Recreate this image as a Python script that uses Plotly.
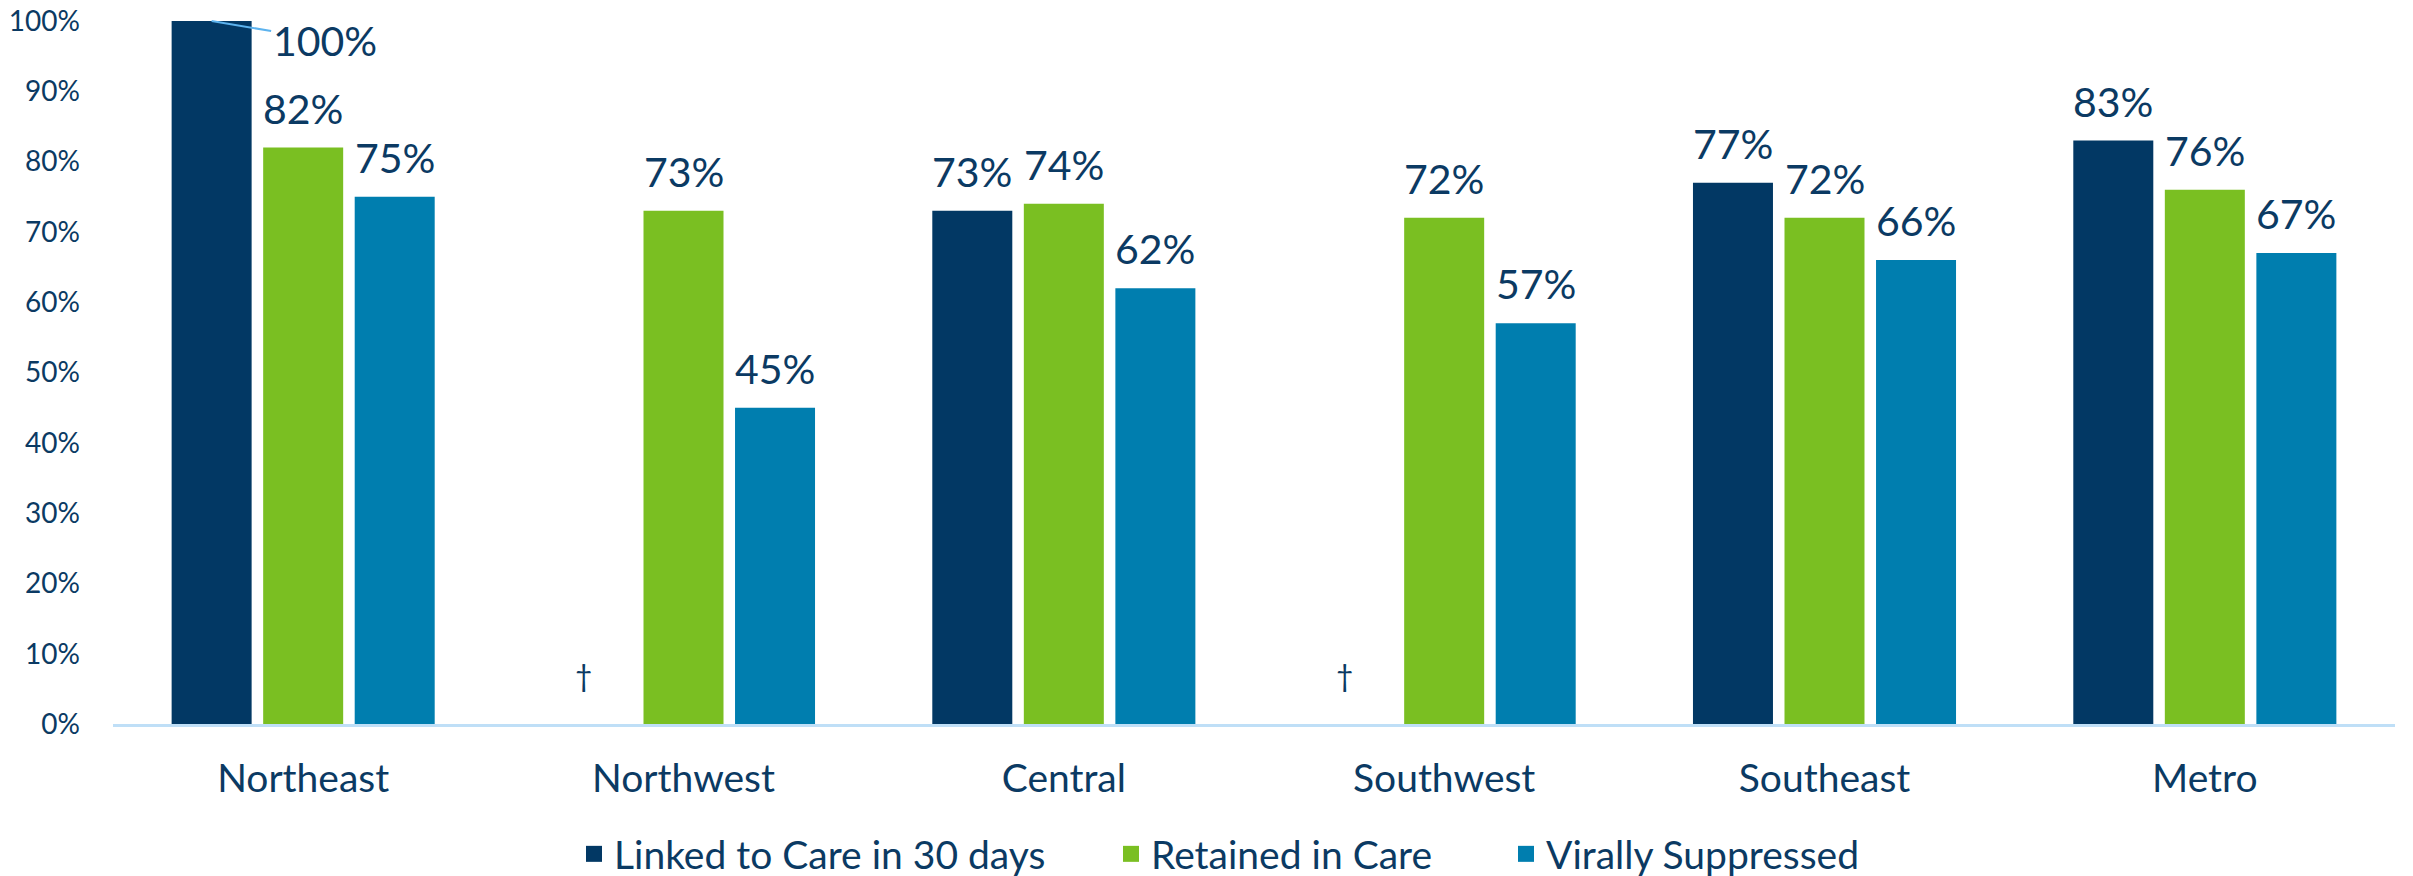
import plotly.graph_objects as go

categories = ["Northeast", "Northwest", "Central", "Southwest", "Southeast", "Metro"]
linked = [100, None, 73, None, 77, 83]
retained = [82, 73, 74, 72, 72, 76]
suppressed = [75, 45, 62, 57, 66, 67]
series_names = ["Linked to Care in 30 days", "Retained in Care", "Virally Suppressed"]
colors = ["#023864", "#7ABF22", "#007EAF"]
y_ticks = [0, 10, 20, 30, 40, 50, 60, 70, 80, 90, 100]
y_tick_labels = [f"{v}%" for v in y_ticks]

W, H = 2413, 876
ML, MR, MT, MB = 113, 18, 21, 152
BARGAP = 0.278
BARGROUPGAP = 0.126
FONT = "Lato"
TXT = "#0B3A63"
LEGEND_X = [574, 1111, 1506]

fig = go.Figure()
series = [linked, retained, suppressed]
for name, vals, col in zip(series_names, series, colors):
    fig.add_trace(go.Bar(
        x=categories, y=[None if v is None else v / 100 for v in vals],
        name=name, marker=dict(color=col, line=dict(width=0)), showlegend=False,
    ))
legend_ids = ["legend", "legend2", "legend3"]
for name, col, lid in zip(series_names, colors, legend_ids):
    fig.add_trace(go.Scatter(
        x=[None], y=[None], mode="markers", name=name, legend=lid,
        marker=dict(symbol="square", size=16, color=col), showlegend=True,
    ))

plot_w = W - ML - MR
slot = plot_w / len(categories) * (1 - BARGAP) / 3

annotations = []
for i, vals in enumerate(series):
    shift = (i - 1) * slot
    for cat, v in zip(categories, vals):
        if v is None:
            annotations.append(dict(
                x=cat, y=0, xref="x", yref="y", text="†", showarrow=False,
                xshift=shift - 8, yshift=49, yanchor="middle",
                font=dict(family=FONT, size=30, color=TXT)))
        elif v >= 100:
            annotations.append(dict(
                x=cat, y=v / 100, xref="x", yref="y", text=f"{v}%",
                showarrow=True, arrowhead=0, arrowwidth=2, arrowcolor="#5DB3EE",
                ax=113, ay=19, xshift=shift, standoff=0,
                font=dict(family=FONT, size=41, color=TXT)))
        else:
            annotations.append(dict(
                x=cat, y=v / 100, xref="x", yref="y", text=f"{v}%",
                showarrow=False, xshift=shift, yshift=13, yanchor="bottom",
                font=dict(family=FONT, size=41, color=TXT)))

legend_common = dict(orientation="h", xref="container", yref="container",
                     xanchor="left", y=1 - 854 / H, yanchor="middle",
                     font=dict(family=FONT, size=39, color=TXT),
                     bgcolor="rgba(0,0,0,0)")

fig.update_layout(
    width=W, height=H,
    margin=dict(l=ML, r=MR, t=MT, b=MB, autoexpand=False),
    paper_bgcolor="white", plot_bgcolor="white",
    barmode="group", bargap=BARGAP, bargroupgap=BARGROUPGAP,
    font=dict(family=FONT, color=TXT),
    annotations=annotations,
    showlegend=True,
    legend=dict(x=LEGEND_X[0] / W, **legend_common),
    legend2=dict(x=LEGEND_X[1] / W, **legend_common),
    legend3=dict(x=LEGEND_X[2] / W, **legend_common),
    xaxis=dict(showline=True, linecolor="#BFDFF7", linewidth=3,
               showgrid=False, ticks="", tickfont=dict(family=FONT, size=39, color=TXT),
               ticklabelstandoff=18),
    yaxis=dict(range=[0, 1], tickvals=[v / 100 for v in y_ticks], ticktext=y_tick_labels,
               showgrid=False, zeroline=False, showline=False, ticks="",
               tickfont=dict(family=FONT, size=28, color=TXT),
               ticklabelstandoff=32),
)

fig.write_html("out.html", config={"displayModeBar": False},
               post_script="document.body.style.margin='0px';")
